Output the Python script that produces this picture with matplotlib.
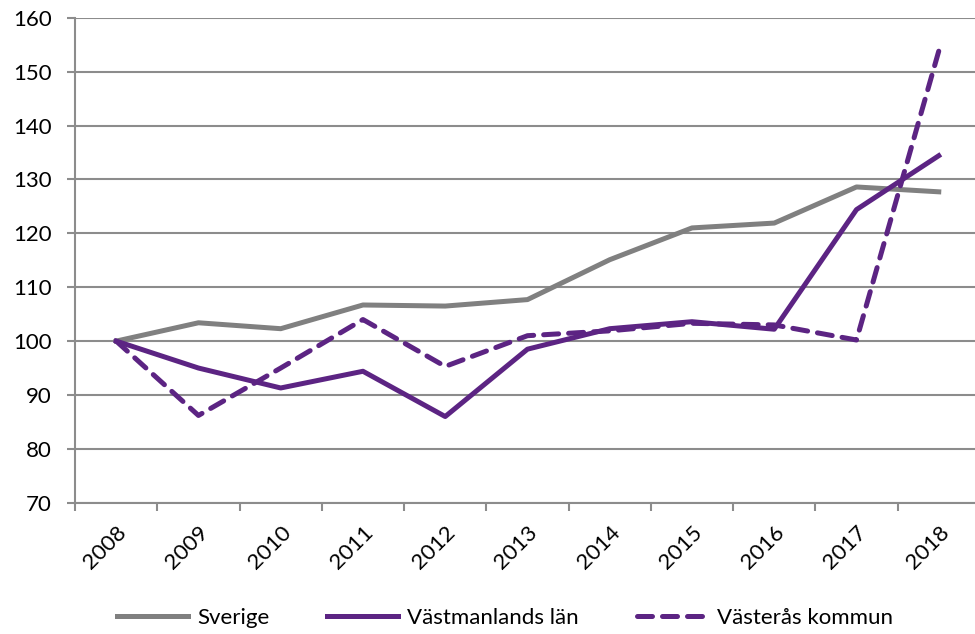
import numpy as np
import matplotlib.pyplot as plt

years = ["2008", "2009", "2010", "2011", "2012", "2013", "2014", "2015", "2016", "2017", "2018"]
sverige = [100, 103.4, 102.3, 106.7, 106.5, 107.7, 115.1, 121.0, 121.9, 128.6, 127.7]
vastmanland = [100, 95.0, 91.3, 94.4, 86.0, 98.5, 102.3, 103.6, 102.2, 124.4, 134.4]
vasteras = [100, 86.2, 95.0, 104.0, 95.3, 101.0, 101.9, 103.3, 103.0, 100.2, 153.8]

plt.rcParams['font.family'] = ['Lato', 'DejaVu Sans']

grey = '#808080'
purple = '#5c2483'

fig = plt.figure(figsize=(9.75, 6.34), dpi=100)
ax = fig.add_axes([0.077, 0.207, 0.928, 0.765])

x = np.arange(len(years))
ax.plot(x, sverige, color=grey, lw=3.6, label='Sverige', solid_joinstyle='round')
ax.plot(x, vastmanland, color=purple, lw=3.6, label='Västmanlands län', solid_joinstyle='round')
ax.plot(x, vasteras, color=purple, lw=3.6, ls=(0, (3.0, 2.0)), label='Västerås kommun',
        dash_capstyle='round', dash_joinstyle='round')

ax.set_xlim(-0.5, len(years) - 0.5)
ax.set_ylim(70, 160)
ax.set_yticks(np.arange(70, 161, 10))
ax.yaxis.grid(True, color='#8c8c8c', lw=1.5)
ax.set_axisbelow(True)

ax.set_xticks(x)
ax.set_xticklabels(years, rotation=45, ha='right', rotation_mode='anchor')
ax.set_xticks(np.arange(-0.5, len(years), 1), minor=True)
ax.tick_params(axis='x', which='major', length=0, pad=14, labelsize=16)
ax.tick_params(axis='x', which='minor', length=6, width=1.5, color='#8c8c8c')
ax.tick_params(axis='y', length=6, width=1.5, color='#8c8c8c', labelsize=16, pad=11)

for s in ['top', 'right']:
    ax.spines[s].set_visible(False)
for s in ['left', 'bottom']:
    ax.spines[s].set_color('#8c8c8c')
    ax.spines[s].set_linewidth(1.5)

fig.legend(loc='lower center', bbox_to_anchor=(0.518, -0.022), ncol=3, frameon=False,
           fontsize=16, handlelength=3.2, columnspacing=2.6, handletextpad=0.4)

fig.savefig('out.png', dpi=100)
